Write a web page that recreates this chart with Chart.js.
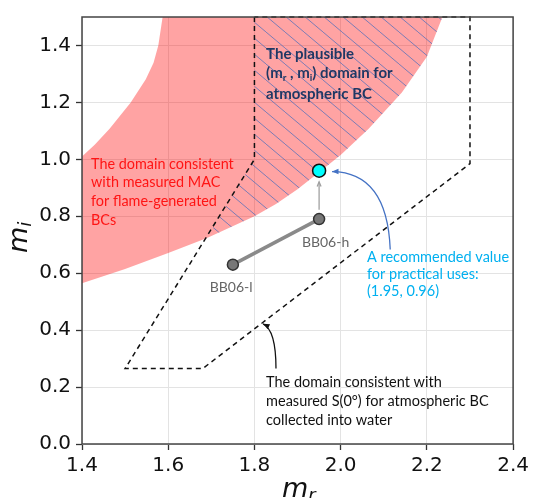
<!DOCTYPE html>
<html lang="en">
<head>
<meta charset="UTF-8">
<title>Plausible (mr, mi) domain for atmospheric BC</title>
<script src="https://cdn.jsdelivr.net/npm/chart.js"></script>
<style>body{margin:0;background:#fff}</style>
</head>
<body>
<div style="width:533px;height:498px;">
  <canvas id="chart" width="533" height="498"></canvas>
</div>
<script>
// axis ticks
const xTicks = [1.4, 1.6, 1.8, 2.0, 2.2, 2.4];
const yTicks = [0.0, 0.2, 0.4, 0.6, 0.8, 1.0, 1.2, 1.4];

// domain consistent with measured MAC (pink band): upper-left and lower-right edges
const macUpper = [
  {x: 1.400, y: 1.010}, {x: 1.430, y: 1.052}, {x: 1.464, y: 1.107}, {x: 1.513, y: 1.200},
  {x: 1.548, y: 1.281}, {x: 1.566, y: 1.339}, {x: 1.577, y: 1.400}, {x: 1.587, y: 1.500}
];
const macLower = [
  {x: 2.236, y: 1.500}, {x: 2.200, y: 1.360}, {x: 2.142, y: 1.235}, {x: 2.065, y: 1.107},
  {x: 2.000, y: 1.015}, {x: 1.950, y: 0.955}, {x: 1.900, y: 0.895}, {x: 1.850, y: 0.843},
  {x: 1.800, y: 0.800}, {x: 1.690, y: 0.724}, {x: 1.600, y: 0.671}, {x: 1.500, y: 0.615},
  {x: 1.400, y: 0.565}
];

// domain consistent with measured S(0°) (dashed outline)
const s0Domain = [
  {x: 1.80, y: 1.50}, {x: 1.80, y: 1.00}, {x: 1.50, y: 0.265}, {x: 1.68, y: 0.265},
  {x: 2.30, y: 0.985}, {x: 2.30, y: 1.50}, {x: 1.80, y: 1.50}
];

// overlap of both = plausible domain (hatched)
const plausible = [
  {x: 1.80, y: 1.50}, {x: 2.236, y: 1.50}, {x: 2.200, y: 1.360}, {x: 2.142, y: 1.235},
  {x: 2.065, y: 1.107}, {x: 2.000, y: 1.015}, {x: 1.950, y: 0.955}, {x: 1.900, y: 0.895},
  {x: 1.850, y: 0.843}, {x: 1.800, y: 0.800}, {x: 1.690, y: 0.724}, {x: 1.80, y: 1.00}
];

// BB06 low / high and the recommended value
const bb06 = [{x: 1.75, y: 0.63}, {x: 1.95, y: 0.79}];
const recommended = [{x: 1.95, y: 0.96}];

const macPolygon = macUpper.concat(macLower);

function hatchPattern() {
  const w = 19, h = 16;
  const c = document.createElement('canvas');
  c.width = w; c.height = h;
  const g = c.getContext('2d');
  g.strokeStyle = 'rgba(80,110,185,0.75)';
  g.lineWidth = 1;
  for (const k of [-w, 0, w]) {
    g.beginPath(); g.moveTo(k, 0); g.lineTo(k + w, h); g.stroke();
  }
  return g.createPattern(c, 'repeat');
}

function arrowHead(ctx, x0, y0, x1, y1, size, filled) {
  const a = Math.atan2(y1 - y0, x1 - x0);
  ctx.beginPath();
  ctx.moveTo(x1 - size * Math.cos(a - 0.4), y1 - size * Math.sin(a - 0.4));
  ctx.lineTo(x1, y1);
  ctx.lineTo(x1 - size * Math.cos(a + 0.4), y1 - size * Math.sin(a + 0.4));
  if (filled) { ctx.closePath(); ctx.fill(); } else { ctx.stroke(); }
}

// text with subscripts: parts = [[text, isSub], ...]
function richText(ctx, parts, x, y, font, subFont) {
  let cx = x;
  for (const [t, sub] of parts) {
    ctx.font = sub ? subFont : font;
    ctx.fillText(t, cx, sub ? y + 4 : y);
    cx += ctx.measureText(t).width;
  }
}

const annotations = {
  id: 'annotations',
  afterDatasetsDraw(chart) {
    const {ctx, chartArea: a, scales: {x, y}} = chart;
    const px = v => x.getPixelForValue(v);
    const py = v => y.getPixelForValue(v);
    ctx.save();

    // frame
    ctx.strokeStyle = '#444';
    ctx.lineWidth = 1.5;
    ctx.strokeRect(a.left, a.top, a.right - a.left, a.bottom - a.top);

    // grey arrow BB06-h -> recommended
    ctx.strokeStyle = '#a0a0a0';
    ctx.lineWidth = 1.3;
    ctx.beginPath(); ctx.moveTo(px(1.95), py(0.823)); ctx.lineTo(px(1.95), py(0.921)); ctx.stroke();
    arrowHead(ctx, px(1.95), py(0.823), px(1.95), py(0.921), 5, false);

    // blue curved arrow
    ctx.strokeStyle = '#4472c4'; ctx.fillStyle = '#4472c4';
    ctx.beginPath();
    ctx.moveTo(px(2.115), py(0.683));
    ctx.quadraticCurveTo(px(2.108), py(0.955), px(1.98), py(0.957));
    ctx.stroke();
    arrowHead(ctx, px(2.04), py(0.957), px(1.98), py(0.957), 7, true);

    // black curved arrow
    ctx.strokeStyle = '#111'; ctx.fillStyle = '#111';
    ctx.beginPath();
    ctx.moveTo(px(1.85), py(0.265));
    ctx.quadraticCurveTo(px(1.85), py(0.40), px(1.82), py(0.422));
    ctx.stroke();
    arrowHead(ctx, px(1.85), py(0.40), px(1.82), py(0.422), 7, true);

    ctx.textBaseline = 'middle';
    ctx.textAlign = 'left';

    ctx.fillStyle = '#ff1414';
    ctx.font = '14.4px Lato';
    ['The domain consistent', 'with measured MAC', 'for flame-generated', 'BCs']
      .forEach((t, i) => ctx.fillText(t, px(1.421), py(0.984) + i * 18.7));

    ctx.fillStyle = '#203864';
    const bold = 'bold 15px Lato', boldSub = 'bold 10px Lato';
    richText(ctx, [['The plausible', false]], px(1.827), py(1.371), bold, boldSub);
    richText(ctx, [['(m', false], ['r', true], [' , m', false], ['i', true], [') domain for', false]],
      px(1.827), py(1.301), bold, boldSub);
    richText(ctx, [['atmospheric BC', false]], px(1.827), py(1.228), bold, boldSub);

    ctx.fillStyle = '#00b0f0';
    ctx.font = '14.5px Lato';
    ['A recommended value', 'for practical uses:', '(1.95, 0.96)']
      .forEach((t, i) => ctx.fillText(t, px(2.061), py(0.656) + i * 17));

    ctx.fillStyle = '#111';
    ['The domain consistent with', 'measured S(0°) for atmospheric BC', 'collected into water']
      .forEach((t, i) => ctx.fillText(t, px(1.827), py(0.216) + i * 19));

    ctx.fillStyle = '#666';
    ctx.textAlign = 'center';
    ctx.font = '14px Lato';
    ctx.fillText('BB06-h', px(1.965), py(0.709));
    ctx.fillText('BB06-l', px(1.746), py(0.551));

    // axis titles
    ctx.fillStyle = '#111';
    ctx.textAlign = 'left';
    ctx.textBaseline = 'alphabetic';
    richText(ctx, [['m', false], ['r', true]], 282, 497, 'italic 27px "DejaVu Sans"', 'italic 18px "DejaVu Sans"');
    ctx.translate(27, 253);
    ctx.rotate(-Math.PI / 2);
    richText(ctx, [['m', false], ['i', true]], 0, 0, 'italic 27px "DejaVu Sans"', 'italic 18px "DejaVu Sans"');
    ctx.restore();
  }
};

const tickFont = {family: 'DejaVu Sans', size: 20};

new Chart(document.getElementById('chart'), {
  type: 'line',
  data: {
    datasets: [
      {data: macPolygon, fill: 'shape', backgroundColor: 'rgba(255,0,0,0.36)',
       borderColor: 'rgba(0,0,0,0)', borderWidth: 0, pointRadius: 0, order: 10},
      {data: plausible, fill: 'shape', backgroundColor: hatchPattern(),
       borderColor: 'rgba(0,0,0,0)', borderWidth: 0, pointRadius: 0, order: 9},
      {data: s0Domain, fill: false, borderColor: '#111', borderWidth: 1.5, borderDash: [5, 4],
       pointRadius: 0, clip: false, order: 8},
      {data: bb06, fill: false, borderColor: '#8a8a8a', borderWidth: 3.5, pointRadius: 5.5,
       pointBackgroundColor: '#777', pointBorderColor: '#333', pointBorderWidth: 1.5, order: 5},
      {data: recommended, showLine: false, pointRadius: 6.5, pointBackgroundColor: '#00ffff',
       pointBorderColor: '#111', pointBorderWidth: 1.5, order: 1}
    ]
  },
  options: {
    responsive: false,
    animation: false,
    layout: {padding: {top: 14, right: 18, left: 0, bottom: 0}},
    plugins: {legend: {display: false}, tooltip: {enabled: false}},
    scales: {
      x: {
        type: 'linear', min: 1.4, max: 2.4,
        afterBuildTicks: s => { s.ticks = xTicks.map(v => ({value: v})); },
        afterFit: s => { s.height = 54; },
        grid: {color: '#e3e3e3', tickColor: '#333', tickLength: 6, tickWidth: 1.3},
        border: {display: false},
        ticks: {font: tickFont, color: '#111', padding: 4, maxRotation: 0,
                callback: v => v.toFixed(1)}
      },
      y: {
        type: 'linear', min: 0, max: 1.5,
        afterBuildTicks: s => { s.ticks = yTicks.map(v => ({value: v})); },
        afterFit: s => { s.width = 82; },
        grid: {color: '#e3e3e3', tickColor: '#333', tickLength: 6, tickWidth: 1.3},
        border: {display: false},
        ticks: {font: tickFont, color: '#111', padding: 5, callback: v => v.toFixed(1)}
      }
    }
  },
  plugins: [annotations]
});
</script>
</body>
</html>
